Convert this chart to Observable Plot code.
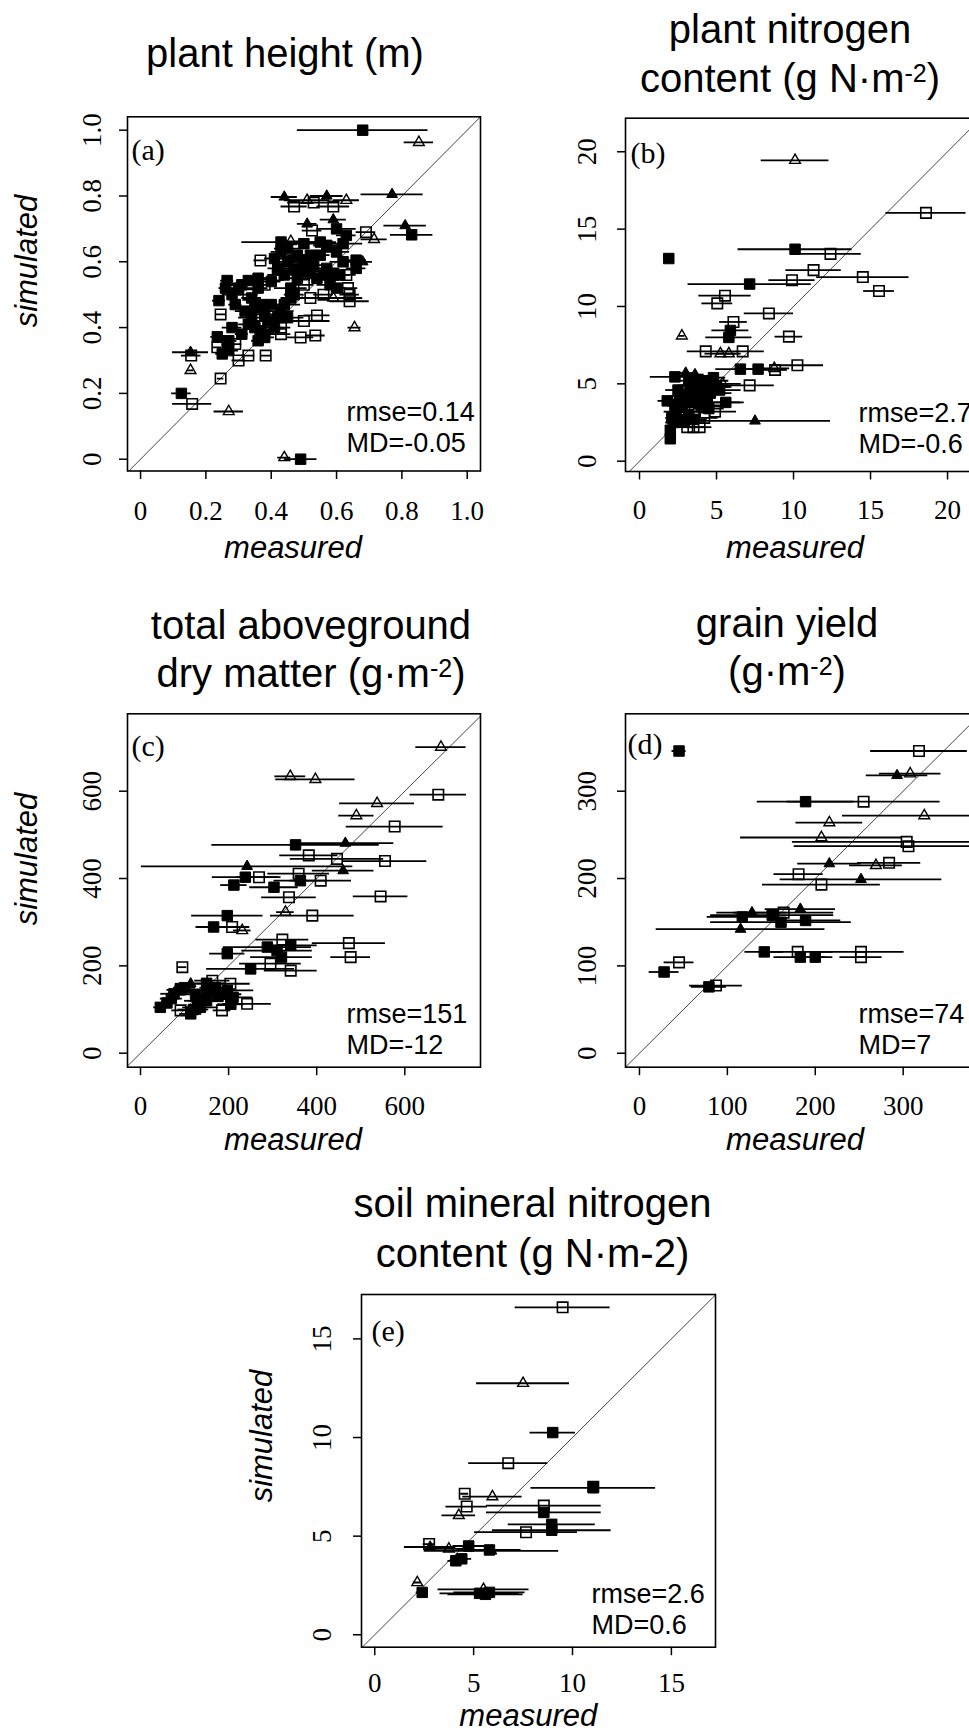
<!DOCTYPE html>
<html>
<head>
<meta charset="utf-8">
<script src="https://cdn.jsdelivr.net/npm/d3@7"></script>
<script src="https://cdn.jsdelivr.net/npm/@observablehq/plot@0.6"></script>
<style>
  html, body { margin: 0; padding: 0; background: #fff; }
  #page { position: relative; width: 969px; height: 1733px; overflow: hidden; background: #fff; }
  #page > svg { position: absolute; }
</style>
</head>
<body>
<div id="page"></div>
<script>
// ---- (a) plant height (m) ----
const aMeasured = [0.68,0.852,0.77,0.44,0.51,0.57,0.63,0.47,0.59,0.53,
  0.51,0.525,0.59,0.60,0.81,0.83,0.69,0.715,0.63,0.43,
  0.46,0.50,0.57,0.60,0.66,0.367,0.43,0.45,0.47,0.44,
  0.50,0.48,0.52,0.46,0.50,0.55,0.57,0.59,0.54,0.60,
  0.62,0.63,0.635,0.64,0.64,0.56,0.52,0.59,0.47,0.42,
  0.40,0.38,0.265,0.33,0.30,0.24,0.34,0.36,0.245,0.32,
  0.35,0.38,0.40,0.43,0.45,0.33,0.367,0.41,0.36,0.38,
  0.235,0.265,0.235,0.27,0.25,0.29,0.43,0.43,0.49,0.535,
  0.50,0.54,0.655,0.30,0.33,0.383,0.245,0.153,0.155,0.153,
  0.125,0.158,0.27,0.44,0.49,0.68,0.66,0.62,0.28,0.29,
  0.31,0.26,0.34,0.37,0.35,0.39,0.42,0.44,0.46,0.42,
  0.45,0.48,0.52,0.53,0.56,0.58,0.61,0.55,0.49,0.41,
  0.38,0.31,0.28,0.27,0.33,0.36];
const aSimulated = [1.00,0.963,0.805,0.797,0.787,0.80,0.787,0.768,0.768,0.78,
  0.715,0.695,0.728,0.70,0.71,0.682,0.69,0.668,0.68,0.66,
  0.662,0.655,0.65,0.63,0.605,0.604,0.63,0.60,0.58,0.56,
  0.60,0.55,0.57,0.52,0.53,0.62,0.58,0.56,0.55,0.52,
  0.60,0.56,0.52,0.50,0.48,0.50,0.49,0.49,0.50,0.56,
  0.54,0.53,0.543,0.543,0.52,0.482,0.49,0.52,0.44,0.45,
  0.46,0.44,0.47,0.45,0.43,0.41,0.39,0.40,0.36,0.38,
  0.372,0.36,0.34,0.33,0.32,0.35,0.38,0.40,0.37,0.376,
  0.42,0.437,0.40,0.30,0.315,0.315,0.245,0.325,0.315,0.27,
  0.20,0.168,0.145,0.005,0.0,0.60,0.58,0.655,0.50,0.47,
  0.53,0.52,0.43,0.47,0.40,0.42,0.43,0.47,0.49,0.58,
  0.64,0.62,0.62,0.59,0.56,0.53,0.56,0.66,0.57,0.61,
  0.37,0.38,0.40,0.36,0.50,0.55];
const aSD = [0.20,0.045,0.095,0.04,0.07,0.05,0.04,0.04,0.05,0.08,
  0.03,0.03,0.04,0.06,0.065,0.065,0.03,0.04,0.03,0.12,
  0.03,0.05,0.04,0.04,0.03,0.02,0.03,0.04,0.03,0.05,
  0.03,0.04,0.03,0.05,0.03,0.03,0.04,0.03,0.03,0.03,
  0.04,0.03,0.03,0.03,0.06,0.03,0.04,0.09,0.03,0.03,
  0.03,0.03,0.02,0.02,0.03,0.02,0.03,0.03,0.015,0.03,
  0.04,0.03,0.03,0.04,0.05,0.03,0.03,0.03,0.02,0.03,
  0.02,0.03,0.015,0.03,0.02,0.02,0.03,0.03,0.04,0.03,
  0.08,0.04,0.02,0.02,0.02,0.015,0.01,0.055,0.03,0.01,
  0.03,0.06,0.045,0.02,0.05,0.03,0.03,0.06,0.03,0.02,
  0.03,0.02,0.04,0.03,0.03,0.04,0.03,0.05,0.03,0.03,
  0.04,0.03,0.04,0.03,0.03,0.04,0.03,0.05,0.03,0.03,
  0.03,0.02,0.03,0.02,0.03,0.03];
// S = filled square, s = open square, T = filled triangle, t = open triangle
const aSymbol = ["S","t","T","T","t","T","t","s","s","s",
  "T","s","T","S","T","S","s","t","S","S",
  "t","S","S","S","S","s","S","S","S","S",
  "S","S","S","S","s","S","S","S","S","S",
  "S","s","s","s","s","s","s","t","S","s",
  "S","s","S","S","S","S","S","S","s","S",
  "S","S","S","S","S","S","S","S","S","S",
  "S","S","s","S","S","s","s","s","s","s",
  "s","s","t","s","s","s","s","T","s","t",
  "S","s","t","t","S","T","S","S","S","S",
  "S","S","S","S","S","S","S","S","S","S",
  "S","S","S","S","S","S","S","S","S","S",
  "S","S","S","S","s","S"];

// ---- (b) plant nitrogen content ----
const bMeasured = [10.1,18.6,10.1,12.4,1.9,11.3,14.5,9.9,7.15,15.55,
  5.55,5.05,8.4,6.1,5.9,5.8,2.75,9.7,4.3,6.7,
  5.25,5.8,10.25,6.55,7.7,8.75,8.8,2.3,3.65,7.15,
  7.5,1.8,2.5,3.0,3.4,2.8,3.8,4.2,4.6,5.0,
  5.4,4.0,3.2,2.4,2.1,3.6,4.4,3.3,3.1,3.5,
  3.9,4.2,2.0,2.0,3.6,5.6,2.2,4.8,3.9,4.5,
  3.0,4.9,2.7,2.6,3.3,3.7,4.1,2.9,3.5,2.3,
  4.6,5.2,3.2];
const bSimulated = [19.45,16.05,13.7,13.4,13.1,12.35,11.9,11.7,11.45,11.0,
  10.7,10.2,9.55,9.0,8.45,8.0,8.1,8.05,7.1,7.1,
  6.95,6.95,6.2,5.95,5.95,6.0,5.9,5.45,5.5,4.9,
  2.6,3.9,4.6,4.2,3.8,3.5,4.6,5.0,4.4,4.8,
  5.0,3.6,3.0,3.2,2.8,3.2,3.8,4.9,2.2,2.2,
  2.2,2.8,2.0,1.45,5.6,3.8,2.5,5.4,5.2,3.4,
  5.7,3.2,4.0,3.8,4.5,4.1,4.4,2.6,2.7,3.6,
  5.2,4.6,5.2];
const bSD = [2.2,2.6,3.7,2.0,0.25,1.8,3.0,1.5,4.0,1.0,
  1.7,1.0,1.6,0.9,1.2,1.5,0.2,0.9,1.2,1.4,
  1.0,0.8,1.7,1.6,1.5,1.0,0.8,1.6,1.0,1.6,
  4.9,0.6,0.8,1.0,1.2,0.6,0.9,1.2,1.4,1.0,
  1.2,1.5,0.8,0.8,0.4,1.0,2.4,0.8,0.6,0.8,
  0.8,0.9,0.3,0.3,0.6,1.0,0.5,0.8,0.9,1.0,
  0.6,1.4,0.5,0.8,1.0,1.2,1.5,0.6,0.9,0.5,
  1.2,1.4,0.8];
const bSymbol = ["t","s","S","s","S","s","s","s","S","s",
  "s","s","s","s","S","S","t","s","s","s",
  "t","t","s","S","S","t","s","S","T","s",
  "T","S","S","S","S","S","S","S","S","S",
  "t","S","S","S","S","s","S","s","s","s",
  "s","s","S","S","T","S","S","S","S","S",
  "T","s","S","S","S","S","S","S","S","S",
  "S","S","S"];

// ---- (c) total aboveground dry matter ----
const cMeasured = [682,340,397,676,537,490,577,352,465,382,
  446,555,242,460,359,363,238,269,212,303,
  409,337,545,329,390,197,166,208,231,322,
  473,288,341,310,197,477,250,295,341,320,
  95,45,114,76,114,151,197,163,204,185,
  242,136,91,100,130,175,60,210,70,90,
  125,150,170,190,205,120,150];
const cSimulated = [701,634,627,592,572,544,519,477,481,453,
  445,440,428,418,411,395,403,403,385,380,
  395,357,359,323,315,315,289,289,281,260,
  252,243,247,235,228,220,193,205,189,220,
  197,105,90,136,159,144,144,166,159,98,
  113,105,98,150,120,130,115,128,125,145,
  135,160,150,135,112,100,120];
const cSD = [57,35,90,64,85,40,110,190,110,66,
  106,95,240,70,70,60,75,50,30,55,
  70,62,62,20,95,81,40,40,20,60,
  83,100,60,80,40,45,100,70,60,70,
  10,15,25,30,35,50,60,40,45,20,
  55,40,20,25,30,50,20,45,25,30,
  40,45,35,40,30,35,40];
const cSymbol = ["t","t","t","s","t","t","s","S","T","s",
  "s","s","T","T","s","S","S","s","S","S",
  "s","s","s","t","s","S","S","s","t","s",
  "s","S","S","S","S","s","S","s","s","S",
  "s","S","S","S","T","S","S","s","s","s",
  "s","S","s","S","S","S","S","S","S","S",
  "S","S","S","S","S","S","S"];

// ---- (d) grain yield ----
const dMeasured = [45,318,293,308,189,255,216,324,207,304,
  306,216,269,284,181,252,207,128,164,183,
  151,117,189,161,115,142,180,252,183,200,
  252,28,45,79,87];
const dSimulated = [346,346,318,320,288,288,264,272,247,242,
  237,217,215,218,205,199,193,161,161,165,
  158,156,152,150,142,116,116,116,110,110,
  110,93,104,76,77.5];
const dSD = [8,55,35,35,55,87,38,93,92,130,
  130,36,30,36,28,92,67,40,57,40,
  70,40,40,80,96,22,40,49,30,20,
  24,17,17,20,30];
const dSymbol = ["S","s","T","t","S","s","t","t","t","s",
  "s","T","t","s","s","T","s","T","s","T",
  "S","S","S","S","T","S","s","s","S","S",
  "s","S","s","S","s"];

// ---- (e) soil mineral nitrogen content ----
const eMeasured = [9.5,7.5,9.0,6.75,11.05,11.05,4.55,5.95,4.65,4.25,
  8.55,8.55,8.95,8.95,7.65,2.75,2.8,3.75,4.75,5.8,
  5.9,4.1,4.4,2.15,2.4,5.3,5.6,5.5,5.8];
const eSimulated = [16.6,12.75,10.25,8.7,7.45,7.5,7.15,7.0,6.5,6.05,
  6.55,6.2,5.6,5.3,5.2,4.6,4.45,4.35,4.5,4.3,
  4.25,3.75,3.85,2.65,2.15,2.1,2.05,2.3,2.15];
const eSD = [2.4,2.35,1.15,2.0,3.15,0.2,0.2,1.5,1.05,0.85,
  2.9,2.9,2.2,3.0,2.6,0.3,1.3,1.0,0.8,1.6,
  3.4,0.4,0.5,0.2,0.3,2.0,1.9,2.3,1.8];
const eSymbol = ["s","t","S","s","S","s","s","t","s","t",
  "s","S","S","S","s","s","T","t","S","S",
  "T","S","S","t","S","S","S","t","S"];

// Tick values per panel
const aTicks = [0, 0.2, 0.4, 0.6, 0.8, 1.0];
const bTicks = [0, 5, 10, 15, 20];
const cTicks = [0, 200, 400, 600];
const dTicks = [0, 100, 200, 300];
const eTicks = [0, 5, 10, 15];

// Panel titles ("^{..}" marks a superscript)
const titles = [
  ["plant height (m)"],
  ["plant nitrogen", "content (g N\u00b7m^{-2})"],
  ["total aboveground", "dry matter (g\u00b7m^{-2})"],
  ["grain yield", "(g\u00b7m^{-2})"],
  ["soil mineral nitrogen", "content (g N\u00b7m-2)"]
];
const tags = ["(a)", "(b)", "(c)", "(d)", "(e)"];
const rmseValues = ["0.14", "2.7", "151", "74", "2.6"];
const mdValues = ["-0.05", "-0.6", "-12", "7", "0.6"];

const SERIF = "'Liberation Serif', 'Times New Roman', Times, serif";
const SANS = "'Liberation Sans', Arial, Helvetica, sans-serif";

const fmt1 = d => d === 0 ? "0" : d.toFixed(1);
const fmt0 = d => String(d);

// Page geometry of each panel: svg box [left, top, width, height], plot frame [left, top, right, bottom]
const panels = [
  {meas: aMeasured, sim: aSimulated, sd: aSD, sym: aSymbol, ticks: aTicks, fmt: fmt1,
   svg: [0, 0, 485, 575], box: [127, 116.3, 480, 470.5],
   xDomain: [-0.04, 1.0407], yDomain: [-0.0359, 1.0407],
   xPad: 21.8, yPad: 19, tagPos: [4, 43], statPos: [219, -18.8],
   titleX: 285, titleY: [67], ylab: [37, 261], xlab: [293, 558.3]},
  {meas: bMeasured, sim: bSimulated, sd: bSD, sym: bSymbol, ticks: bTicks, fmt: fmt0,
   svg: [485, 0, 494, 575], box: [625, 117.7, 978, 471],
   xDomain: [-0.91, 22.01], yDomain: [-0.666, 22.17],
   xPad: 19.6, yPad: 22, tagPos: [5, 45], statPos: [233, -18.7],
   titleX: 790, titleY: [43.3, 91.7], ylab: null, xlab: [795, 558]},
  {meas: cMeasured, sim: cSimulated, sd: cSD, sym: cSymbol, ticks: cTicks, fmt: fmt0,
   svg: [0, 580, 485, 580], box: [127, 713.3, 480, 1066.7],
   xDomain: [-29.5, 771.8], yDomain: [-32.1, 777.2],
   xPad: 20.6, yPad: 19, tagPos: [4, 41.7], statPos: [219, -13.4],
   titleX: 311, titleY: [639.3, 687.3], ylab: [37, 859], xlab: [293, 1150]},
  {meas: dMeasured, sim: dSimulated, sd: dSD, sym: dSymbol, ticks: dTicks, fmt: fmt0,
   svg: [485, 580, 494, 580], box: [625, 713.3, 978, 1066.7],
   xDomain: [-15.9, 385.7], yDomain: [-16.0, 388.6],
   xPad: 20.6, yPad: 22, tagPos: [2, 40], statPos: [233, -13.4],
   titleX: 787, titleY: [636.7, 685], ylab: null, xlab: [795, 1150]},
  {meas: eMeasured, sim: eSimulated, sd: eSD, sym: eSymbol, ticks: eTicks, fmt: fmt0,
   svg: [240, 1160, 485, 573], box: [361, 1294, 715, 1646.7],
   xDomain: [-0.67, 17.23], yDomain: [-0.63, 17.25],
   xPad: 17.3, yPad: 23, tagPos: [10, 46.7], statPos: [230, -13.4],
   titleX: 532.5, titleY: [1216.7, 1266.7], ylab: [271.7, 1436], xlab: [528.3, 1725.5]}
];

const page = document.getElementById("page");

panels.forEach((p, i) => {
  const rows = p.meas.map((m, j) => ({m, s: p.sim[j], sd: p.sd[j], k: p.sym[j]}));
  const [sl, st, sw, sh] = p.svg;
  const [bl, bt, br, bb] = p.box;
  const lo = Math.max(p.xDomain[0], p.yDomain[0]);
  const hi = Math.min(p.xDomain[1], p.yDomain[1]);
  const pick = k => rows.filter(d => d.k === k);

  const chart = Plot.plot({
    width: sw, height: sh,
    marginLeft: bl - sl, marginRight: sl + sw - br,
    marginTop: bt - st, marginBottom: st + sh - bb,
    x: {domain: p.xDomain, label: null},
    y: {domain: p.yDomain, label: null},
    style: {fontFamily: SERIF, fontSize: "27px", color: "#000", background: "transparent", overflow: "visible"},
    marks: [
      // 1:1 line
      Plot.link([{lo, hi}], {x1: "lo", y1: "lo", x2: "hi", y2: "hi", stroke: "#444", strokeWidth: 1}),
      // horizontal error bars on the measured values
      Plot.ruleY(rows, {y: "s", x1: d => d.m - d.sd, x2: d => d.m + d.sd, stroke: "#000", strokeWidth: 1.8, clip: true}),
      Plot.dot(pick("s"), {x: "m", y: "s", symbol: "square", r: 5.9, fill: "none", stroke: "#000", strokeWidth: 1.6, clip: true}),
      Plot.dot(pick("S"), {x: "m", y: "s", symbol: "square", r: 5.9, fill: "#000", stroke: "#000", strokeWidth: 1, clip: true}),
      Plot.dot(pick("t"), {x: "m", y: "s", symbol: "triangle", r: 4.0, fill: "none", stroke: "#000", strokeWidth: 1.4, clip: true}),
      Plot.dot(pick("T"), {x: "m", y: "s", symbol: "triangle", r: 4.0, fill: "#000", stroke: "#000", strokeWidth: 1, clip: true}),
      Plot.frame({stroke: "#000", strokeWidth: 1.6}),
      Plot.axisX(p.ticks, {tickFormat: p.fmt, tickSize: 8.5, tickPadding: p.xPad, strokeWidth: 1.5, label: null}),
      Plot.axisY(p.ticks, {tickFormat: p.fmt, tickSize: 8, tickPadding: p.yPad, tickRotate: -90, strokeWidth: 1.5, label: null}),
      Plot.text([tags[i]], {text: d => d, frameAnchor: "top-left", textAnchor: "start", lineAnchor: "bottom",
        dx: p.tagPos[0], dy: p.tagPos[1], fontFamily: SERIF, fontSize: 30}),
      Plot.text([`rmse=${rmseValues[i]}\nMD=${mdValues[i]}`], {text: d => d, frameAnchor: "bottom-left",
        textAnchor: "start", lineAnchor: "bottom", lineHeight: 1.15,
        dx: p.statPos[0], dy: p.statPos[1], fontFamily: SANS, fontSize: 27})
    ]
  });
  chart.style.left = sl + "px";
  chart.style.top = st + "px";
  chart.style.maxWidth = "none";
  page.appendChild(chart);
});

// Titles and axis names
const overlay = d3.select(page).append("svg")
  .attr("width", 969).attr("height", 1733)
  .style("left", "0px").style("top", "0px").style("pointer-events", "none");

function titleLine(str, x, y) {
  const t = overlay.append("text").attr("x", x).attr("y", y)
    .attr("text-anchor", "middle").attr("font-family", SANS).attr("font-size", 40).attr("fill", "#000");
  const parts = str.split(/\^\{([^}]*)\}/);
  let shift = 0;
  parts.forEach((s, j) => {
    if (!s) return;
    if (j % 2) {
      t.append("tspan").attr("dy", -10).attr("font-size", 25).text(s);
      shift = 10;
    } else {
      const ts = t.append("tspan").text(s);
      if (shift) { ts.attr("dy", shift); shift = 0; }
    }
  });
}

panels.forEach((p, i) => {
  titles[i].forEach((line, j) => titleLine(line, p.titleX, p.titleY[j]));
  overlay.append("text")
    .attr("x", p.xlab[0]).attr("y", p.xlab[1])
    .attr("text-anchor", "middle").attr("font-family", SANS).attr("font-style", "italic")
    .attr("font-size", 31).text("measured");
  if (p.ylab) {
    overlay.append("text")
      .attr("transform", `translate(${p.ylab[0]},${p.ylab[1]}) rotate(-90)`)
      .attr("text-anchor", "middle").attr("font-family", SANS).attr("font-style", "italic")
      .attr("font-size", 31).text("simulated");
  }
});
</script>
</body>
</html>
